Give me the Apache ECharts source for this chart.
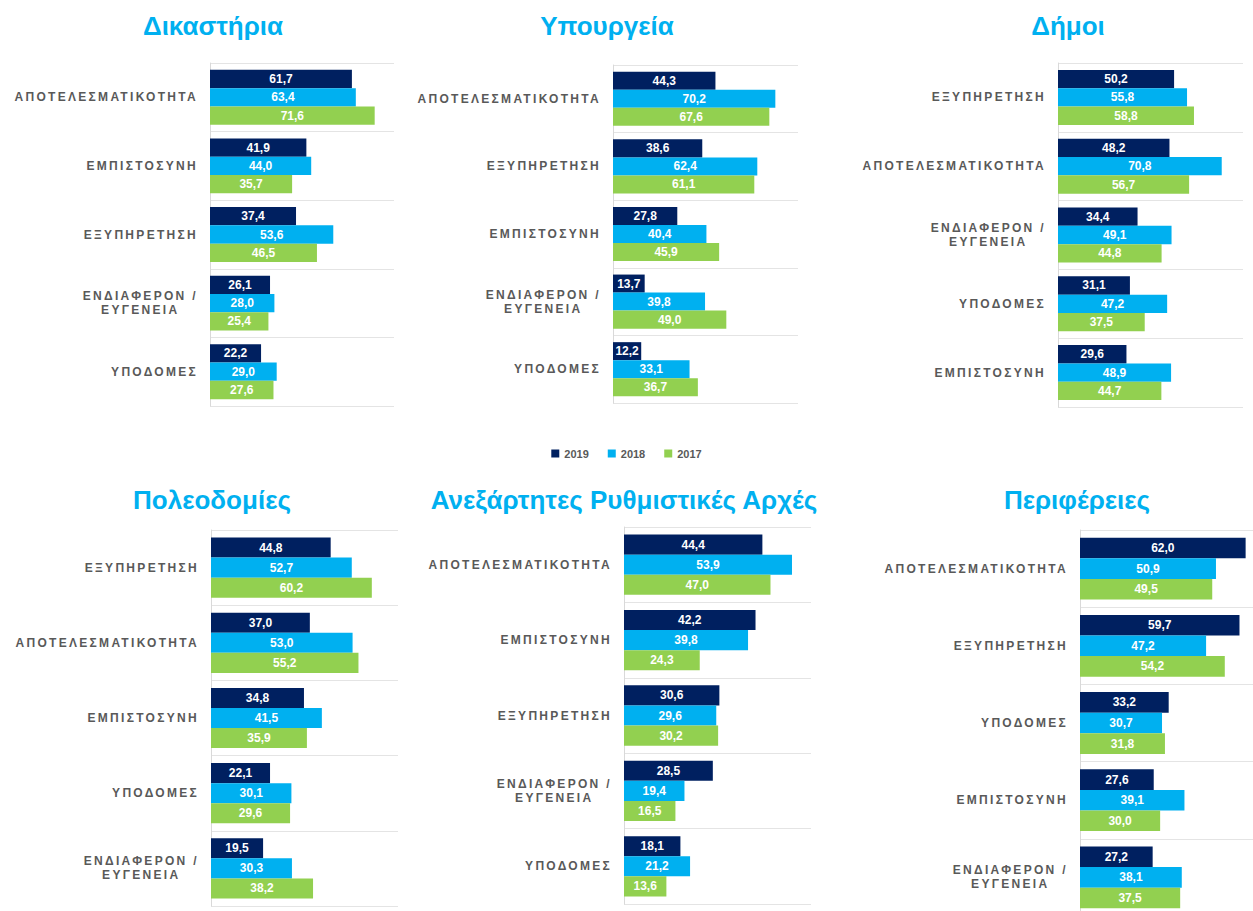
<!DOCTYPE html>
<html>
<head>
<meta charset="utf-8">
<script src="https://cdn.jsdelivr.net/npm/echarts@6/dist/echarts.min.js"></script>
<style>
html,body{margin:0;padding:0;background:#fff;}
#chart{width:1253px;height:911px;}
</style>
</head>
<body>
<div id="chart"></div>
<script>
// ---------- DATA ----------
const years = ['2019', '2018', '2017'];

const titleDik = 'Δικαστήρια';
const catsDik = ['ΑΠΟΤΕΛΕΣΜΑΤΙΚΟΤΗΤΑ', 'ΕΜΠΙΣΤΟΣΥΝΗ', 'ΕΞΥΠΗΡΕΤΗΣΗ', 'ΕΝΔΙΑΦΕΡΟΝ /\nΕΥΓΕΝΕΙΑ', 'ΥΠΟΔΟΜΕΣ'];
const dik2019 = [61.7, 41.9, 37.4, 26.1, 22.2];
const dik2018 = [63.4, 44.0, 53.6, 28.0, 29.0];
const dik2017 = [71.6, 35.7, 46.5, 25.4, 27.6];

const titleYp = 'Υπουργεία';
const catsYp = ['ΑΠΟΤΕΛΕΣΜΑΤΙΚΟΤΗΤΑ', 'ΕΞΥΠΗΡΕΤΗΣΗ', 'ΕΜΠΙΣΤΟΣΥΝΗ', 'ΕΝΔΙΑΦΕΡΟΝ /\nΕΥΓΕΝΕΙΑ', 'ΥΠΟΔΟΜΕΣ'];
const yp2019 = [44.3, 38.6, 27.8, 13.7, 12.2];
const yp2018 = [70.2, 62.4, 40.4, 39.8, 33.1];
const yp2017 = [67.6, 61.1, 45.9, 49.0, 36.7];

const titleDim = 'Δήμοι';
const catsDim = ['ΕΞΥΠΗΡΕΤΗΣΗ', 'ΑΠΟΤΕΛΕΣΜΑΤΙΚΟΤΗΤΑ', 'ΕΝΔΙΑΦΕΡΟΝ /\nΕΥΓΕΝΕΙΑ', 'ΥΠΟΔΟΜΕΣ', 'ΕΜΠΙΣΤΟΣΥΝΗ'];
const dim2019 = [50.2, 48.2, 34.4, 31.1, 29.6];
const dim2018 = [55.8, 70.8, 49.1, 47.2, 48.9];
const dim2017 = [58.8, 56.7, 44.8, 37.5, 44.7];

const titlePol = 'Πολεοδομίες';
const catsPol = ['ΕΞΥΠΗΡΕΤΗΣΗ', 'ΑΠΟΤΕΛΕΣΜΑΤΙΚΟΤΗΤΑ', 'ΕΜΠΙΣΤΟΣΥΝΗ', 'ΥΠΟΔΟΜΕΣ', 'ΕΝΔΙΑΦΕΡΟΝ /\nΕΥΓΕΝΕΙΑ'];
const pol2019 = [44.8, 37.0, 34.8, 22.1, 19.5];
const pol2018 = [52.7, 53.0, 41.5, 30.1, 30.3];
const pol2017 = [60.2, 55.2, 35.9, 29.6, 38.2];

const titleAra = 'Ανεξάρτητες Ρυθμιστικές Αρχές';
const catsAra = ['ΑΠΟΤΕΛΕΣΜΑΤΙΚΟΤΗΤΑ', 'ΕΜΠΙΣΤΟΣΥΝΗ', 'ΕΞΥΠΗΡΕΤΗΣΗ', 'ΕΝΔΙΑΦΕΡΟΝ /\nΕΥΓΕΝΕΙΑ', 'ΥΠΟΔΟΜΕΣ'];
const ara2019 = [44.4, 42.2, 30.6, 28.5, 18.1];
const ara2018 = [53.9, 39.8, 29.6, 19.4, 21.2];
const ara2017 = [47.0, 24.3, 30.2, 16.5, 13.6];

const titlePer = 'Περιφέρειες';
const catsPer = ['ΑΠΟΤΕΛΕΣΜΑΤΙΚΟΤΗΤΑ', 'ΕΞΥΠΗΡΕΤΗΣΗ', 'ΥΠΟΔΟΜΕΣ', 'ΕΜΠΙΣΤΟΣΥΝΗ', 'ΕΝΔΙΑΦΕΡΟΝ /\nΕΥΓΕΝΕΙΑ'];
const per2019 = [62.0, 59.7, 33.2, 27.6, 27.2];
const per2018 = [50.9, 47.2, 30.7, 39.1, 38.1];
const per2017 = [49.5, 54.2, 31.8, 30.0, 37.5];

// ---------- LAYOUT / STYLE ----------
const panels = [
  { title: titleDik, cats: catsDik, vals: [dik2019, dik2018, dik2017] },
  { title: titleYp,  cats: catsYp,  vals: [yp2019, yp2018, yp2017] },
  { title: titleDim, cats: catsDim, vals: [dim2019, dim2018, dim2017] },
  { title: titlePol, cats: catsPol, vals: [pol2019, pol2018, pol2017] },
  { title: titleAra, cats: catsAra, vals: [ara2019, ara2018, ara2017] },
  { title: titlePer, cats: catsPer, vals: [per2019, per2018, per2017] }
];
const layout = [
  { tx: 213,  ty: 13,  left: 210,  top: 63,  width: 184, height: 343, max: 80 },
  { tx: 607,  ty: 13,  left: 613,  top: 65,  width: 185, height: 338, max: 80 },
  { tx: 1068, ty: 13,  left: 1058, top: 63,  width: 185, height: 344, max: 80 },
  { tx: 212,  ty: 487, left: 211,  top: 530, width: 187, height: 376, max: 70 },
  { tx: 624,  ty: 487, left: 624,  top: 527, width: 187, height: 377, max: 60 },
  { tx: 1077, ty: 487, left: 1080, top: 530, width: 187, height: 386, max: 70 }
];
const colors = ['#002060', '#00b0f0', '#92d050'];
const FONT = 'Liberation Sans';
const SPACING = 2.3;

const catLines = new Set();
panels.forEach(p => p.cats.forEach(c => c.split('\n').forEach(l => catLines.add(l))));

const title = [], grid = [], xAxis = [], yAxis = [], series = [];
panels.forEach((p, i) => {
  const L = layout[i];
  title.push({
    text: p.title, left: L.tx, top: L.ty, textAlign: 'center', padding: 0,
    textStyle: { fontFamily: FONT, fontSize: 26, fontWeight: 'bold', color: '#00b0f0' }
  });
  grid.push({ left: L.left, top: L.top, width: L.width, height: L.height, containLabel: false, outerBoundsMode: 'none' });
  xAxis.push({ gridIndex: i, type: 'value', min: 0, max: L.max, show: false });
  yAxis.push({
    gridIndex: i, type: 'category', data: p.cats, inverse: true,
    axisLine: { show: true, lineStyle: { color: '#d9d9d9', width: 1 } },
    axisTick: { show: false },
    splitLine: { show: true, lineStyle: { color: '#e4e4e4', width: 1 } },
    axisLabel: {
      interval: 0, margin: 12, fontFamily: FONT, fontSize: 12, fontWeight: 'bold', color: '#595959',
      lineHeight: 14,
      formatter: v => v.indexOf('\n') >= 0 ? v.split('\n').map(l => '{c|' + l + '}').join('\n') : v,
      rich: { c: { align: 'center', padding: [0, 14, 0, 0], fontFamily: FONT, fontSize: 12, fontWeight: 'bold', color: '#595959', lineHeight: 14 } }
    }
  });
  p.vals.forEach((arr, k) => {
    series.push({
      type: 'bar', name: years[k], xAxisIndex: i, yAxisIndex: i, data: arr,
      barGap: '0%', barCategoryGap: '20%',
      itemStyle: { color: colors[k] },
      label: {
        show: true, position: 'inside', color: '#ffffff', fontFamily: FONT, fontSize: 12, fontWeight: 'bold',
        formatter: prm => prm.value.toFixed(1).replace('.', ',')
      }
    });
  });
});

const chart = echarts.init(document.getElementById('chart'), null, { renderer: 'svg' });
chart.setOption({
  animation: false,
  backgroundColor: '#ffffff',
  title, grid, xAxis, yAxis, series,
  legend: {
    data: years, left: 'center', top: 448, padding: 0, icon: 'rect',
    itemWidth: 8, itemHeight: 8, itemGap: 19,
    textStyle: { fontFamily: FONT, fontSize: 11, fontWeight: 'bold', color: '#595959' }
  }
});

function applySpacing() {
  document.querySelectorAll('#chart text').forEach(t => {
    if (catLines.has(t.textContent.trim())) t.setAttribute('letter-spacing', SPACING);
  });
}
chart.on('finished', applySpacing);
applySpacing();
</script>
</body>
</html>
